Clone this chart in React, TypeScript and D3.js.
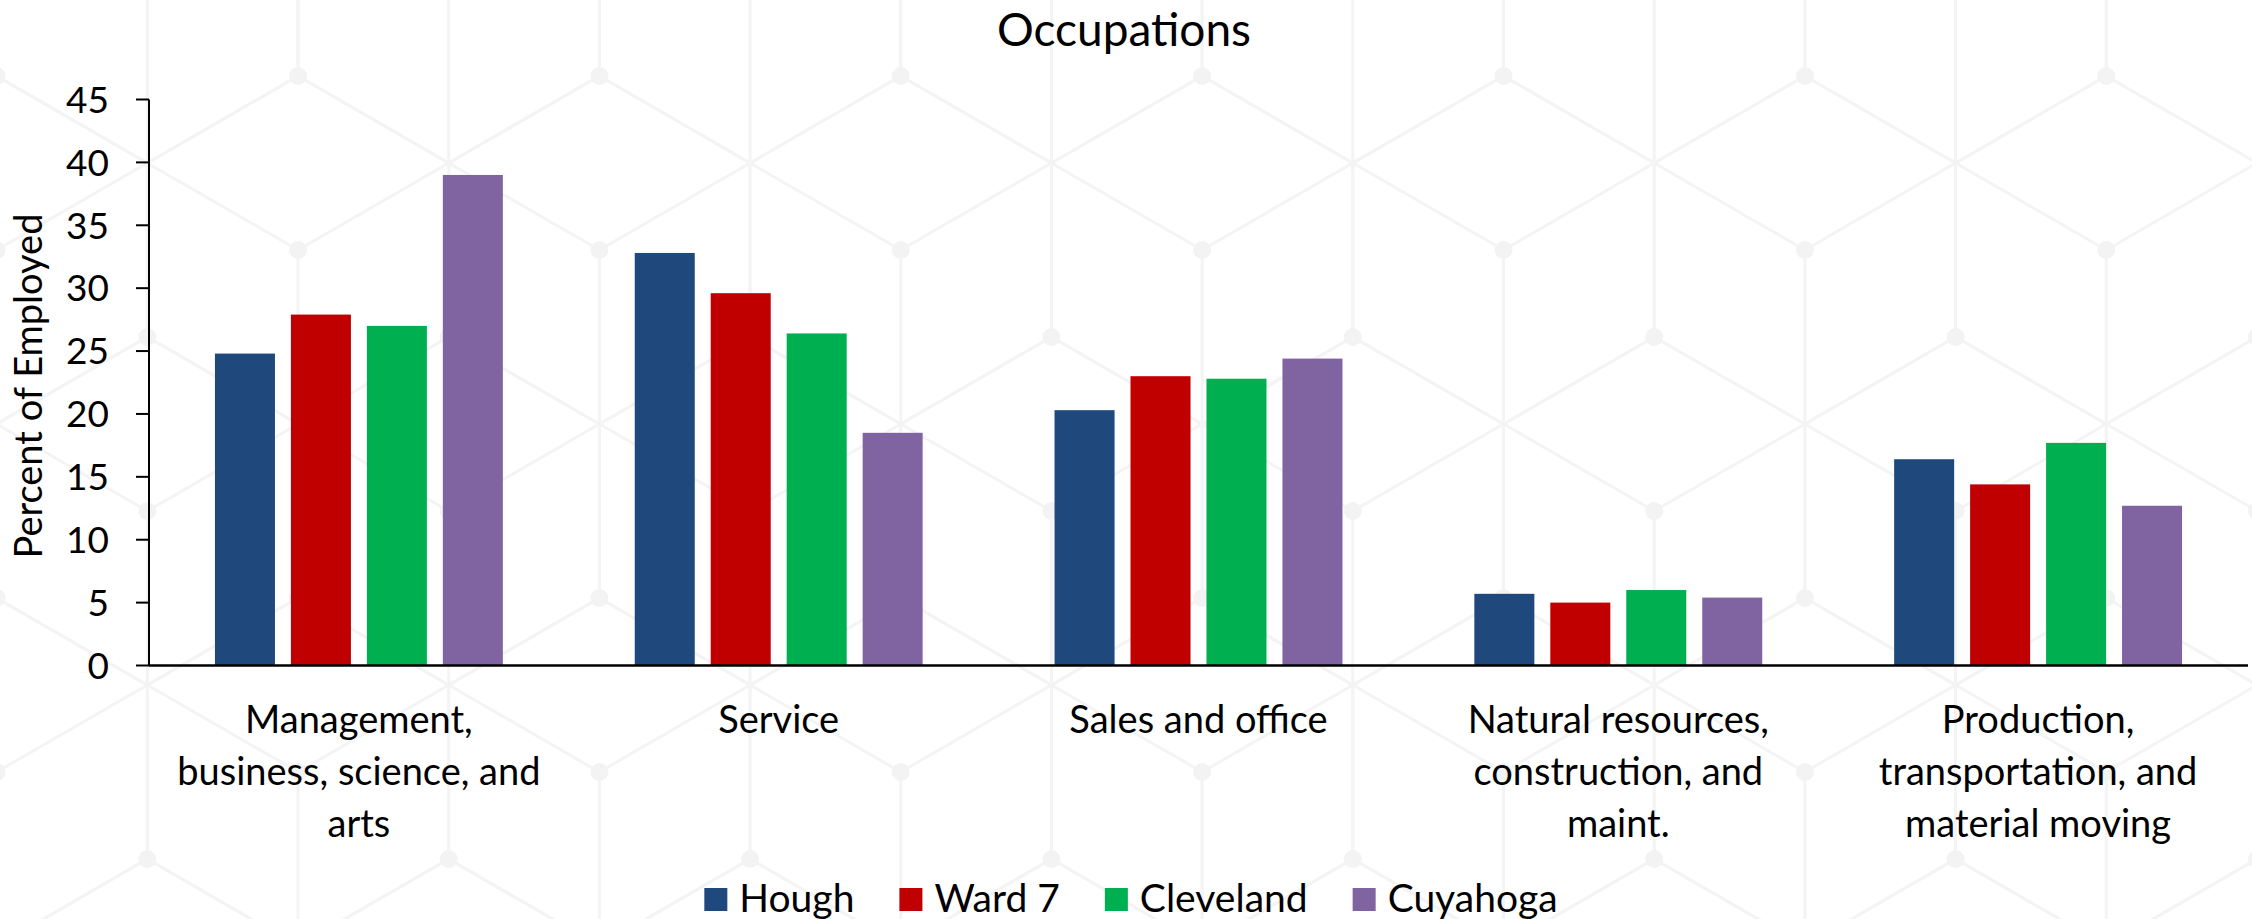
import React, { useEffect, useRef } from "react";
import * as d3 from "d3";

const categories: string[][] = [
  ["Management,", "business, science, and", "arts"],
  ["Service"],
  ["Sales and office"],
  ["Natural resources,", "construction, and", "maint."],
  ["Production,", "transportation, and", "material moving"],
];
const seriesNames = ["Hough", "Ward 7", "Cleveland", "Cuyahoga"];
const seriesColors = ["#1F497D", "#C00000", "#00B050", "#8064A2"];
const hough = [24.8, 32.8, 20.3, 5.7, 16.4];
const ward7 = [27.9, 29.6, 23.0, 5.0, 14.4];
const cleveland = [27.0, 26.4, 22.8, 6.0, 17.7];
const cuyahoga = [39.0, 18.5, 24.4, 5.4, 12.7];
const seriesValues = [hough, ward7, cleveland, cuyahoga];
const yTicks = [0, 5, 10, 15, 20, 25, 30, 35, 40, 45];
const title = "Occupations";
const yLabel = "Percent of Employed";

const W = 2252;
const H = 919;
const FONT = "Lato, 'Open Sans', sans-serif";

export default function App() {
  const ref = useRef<SVGSVGElement | null>(null);

  useEffect(() => {
    document.body.style.margin = "0";
    const svg = d3.select(ref.current);
    svg.selectAll("*").remove();

    // background pattern (tumbling blocks / honeycomb)
    const bg = svg.append("g");
    bg.append("rect").attr("width", W).attr("height", H).attr("fill", "#ffffff");
    const L = 174;
    const HW = (L * Math.sqrt(3)) / 2;
    const pat = bg.append("g").attr("stroke", "#f4f4f4").attr("stroke-width", 3).attr("fill", "none");
    const dots = bg.append("g").attr("fill", "#f3f3f3");
    for (let r = -1; r <= 4; r++) {
      for (let k = -2; k <= 9; k++) {
        const cx = 298 + k * 2 * HW + (Math.abs(r) % 2 === 1 ? HW : 0);
        const cy = 250 + r * 1.5 * L;
        const verts = [
          [cx, cy - L],
          [cx + HW, cy - L / 2],
          [cx + HW, cy + L / 2],
          [cx, cy + L],
          [cx - HW, cy + L / 2],
          [cx - HW, cy - L / 2],
        ];
        pat
          .append("path")
          .attr("d", "M" + verts.map((v) => v.join(",")).join("L") + "Z");
        [verts[5], verts[1], verts[3]].forEach((v) => {
          pat.append("line").attr("x1", cx).attr("y1", cy).attr("x2", v[0]).attr("y2", v[1]);
        });
        dots.append("circle").attr("cx", cx).attr("cy", cy).attr("r", 9);
        dots.append("circle").attr("cx", verts[0][0]).attr("cy", verts[0][1]).attr("r", 9);
      }
    }

    const left = 149;
    const right = 2248;
    const top = 99.5;
    const bottom = 665.5;

    const x0 = d3
      .scaleBand<number>()
      .domain(categories.map((_, i) => i))
      .range([left, right])
      .paddingInner(0)
      .paddingOuter(0);
    const x1 = d3
      .scaleBand<number>()
      .domain(seriesNames.map((_, i) => i))
      .range([0, x0.bandwidth()])
      .paddingInner(0.21)
      .paddingOuter(0.868);
    const y = d3.scaleLinear().domain([0, 45]).range([bottom, top]);

    // bars
    const bars = svg.append("g");
    seriesValues.forEach((vals, si) => {
      bars
        .selectAll(null)
        .data(vals)
        .enter()
        .append("rect")
        .attr("x", (_, ci) => (x0(ci) as number) + (x1(si) as number))
        .attr("y", (d) => y(d))
        .attr("width", x1.bandwidth())
        .attr("height", (d) => bottom - y(d))
        .attr("fill", seriesColors[si]);
    });

    // y axis
    const yAxis = svg.append("g");
    yAxis
      .append("line")
      .attr("x1", left)
      .attr("x2", left)
      .attr("y1", y(45))
      .attr("y2", bottom)
      .attr("stroke", "#000")
      .attr("stroke-width", 2);
    yTicks.forEach((t) => {
      yAxis
        .append("line")
        .attr("x1", left - 13)
        .attr("x2", left)
        .attr("y1", y(t))
        .attr("y2", y(t))
        .attr("stroke", "#000")
        .attr("stroke-width", 2);
      yAxis
        .append("text")
        .attr("x", 109)
        .attr("y", y(t) + 13.3)
        .attr("text-anchor", "end")
        .attr("font-family", FONT)
        .attr("font-size", 37)
        .attr("fill", "#000")
        .text(String(t));
    });

    // x axis
    svg
      .append("line")
      .attr("x1", left)
      .attr("x2", right)
      .attr("y1", bottom)
      .attr("y2", bottom)
      .attr("stroke", "#000")
      .attr("stroke-width", 2.5);

    categories.forEach((lines, ci) => {
      const cx = (x0(ci) as number) + x0.bandwidth() / 2;
      const t = svg
        .append("text")
        .attr("text-anchor", "middle")
        .attr("font-family", FONT)
        .attr("font-size", 38)
        .attr("fill", "#000");
      lines.forEach((ln, li) => {
        t.append("tspan")
          .attr("x", cx)
          .attr("y", bottom + 67.5 + li * 52)
          .text(ln);
      });
    });

    // title
    svg
      .append("text")
      .attr("x", 1124)
      .attr("y", 46)
      .attr("text-anchor", "middle")
      .attr("font-family", FONT)
      .attr("font-size", 46)
      .attr("fill", "#000")
      .text(title);

    // y label
    svg
      .append("text")
      .attr("transform", `translate(42, 386) rotate(-90)`)
      .attr("text-anchor", "middle")
      .attr("font-family", FONT)
      .attr("font-size", 38)
      .attr("fill", "#000")
      .text(yLabel);

    // legend
    const lg = svg.append("g");
    const sq = 23;
    const gapAfterSq = 12;
    const gapItems = 45;
    const items: { g: any; w: number }[] = [];
    seriesNames.forEach((name, si) => {
      const g = lg.append("g");
      g.append("rect")
        .attr("x", 0)
        .attr("y", 888)
        .attr("width", sq)
        .attr("height", sq)
        .attr("fill", seriesColors[si]);
      const txt = g
        .append("text")
        .attr("x", sq + gapAfterSq)
        .attr("y", 911.5)
        .attr("font-family", FONT)
        .attr("font-size", 39)
        .attr("fill", "#000")
        .text(name);
      const tw = (txt.node() as SVGTextElement).getComputedTextLength();
      items.push({ g, w: sq + gapAfterSq + tw });
    });
    const total = items.reduce((a, b) => a + b.w, 0) + gapItems * (items.length - 1);
    let cursor = 1131 - total / 2;
    items.forEach((it) => {
      it.g.attr("transform", `translate(${cursor},0)`);
      cursor += it.w + gapItems;
    });
  }, []);

  return <svg ref={ref} width={W} height={H} style={{ display: "block" }} />;
}
